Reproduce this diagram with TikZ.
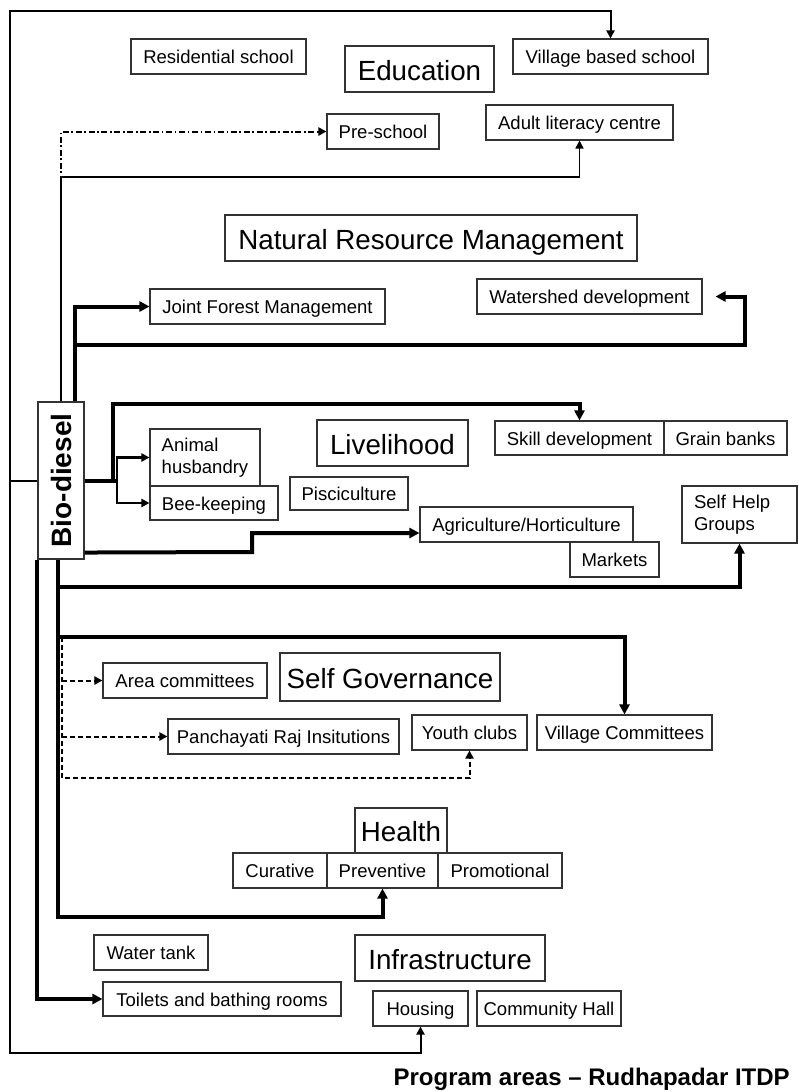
\documentclass[tikz,border=0pt]{standalone}
\usepackage{fontspec}
\setmainfont{Liberation Sans}
\usepackage{graphicx}
\usetikzlibrary{arrows.meta,calc}
\begin{document}
\begin{tikzpicture}[x=0.75pt,y=-0.75pt,
  sz/.style 2 args={minimum width={#1*0.75pt},minimum height={#2*0.75pt}},
  boxbase/.style={draw=black!80,line width=0.8pt,inner sep=0pt,align=center,
    font=\fontsize{13.9}{16.5}\selectfont},
  box/.style={boxbase,text height=11pt,text depth=0pt},
  hbox/.style={boxbase,font=\fontsize{20.8}{24}\selectfont,text height=16.5pt,text depth=0pt},
  tipa/.style={-{Triangle[length=6pt,width=6pt]}},
  tipb/.style={-{Triangle[length=7.5pt,width=7.5pt]}},
  lnthin/.style={line width=1.2pt},
  lnframe/.style={line width=1.5pt},
  lnmed/.style={line width=1.8pt},
  lnbold/.style={line width=3pt},
  lndash/.style={line width=1.5pt,dash pattern=on 3.75pt off 2.25pt},
  lndashdot/.style={line width=1.5pt,dash pattern=on 4.5pt off 2pt on 1.2pt off 2pt},
]
\fill[white] (0,0) rectangle (799,1092);
\useasboundingbox (0,0) rectangle (799,1092);

% ---- Education
\node[box,sz={175}{35}] (res) at (218.5,56.5) {Residential school};
\node[hbox,sz={149}{46}] (edu) at (419.5,69) {Education};
\node[box,sz={195}{35}] (vbs) at (610.5,56.5) {Village based school};
\node[box,sz={112}{35}] (pre) at (383,131.5) {Pre-school};
\node[box,sz={187}{35}] (alc) at (579.5,122.5) {Adult literacy centre};

% ---- Natural resource management
\node[hbox,sz={412}{46}] (nrm) at (431,238) {Natural Resource Management};
\node[box,sz={235}{35}] (jfm) at (267.5,306.5) {Joint Forest Management};
\node[box,sz={225}{35}] (wsd) at (589.5,296.5) {Watershed development};

% ---- Central source
\node[boxbase,sz={46}{157}] (bio) at (61,480.5)
  {\rotatebox{90}{\fontsize{21}{24}\bfseries Bio-diesel}};

% ---- Livelihood
\node[boxbase,sz={110}{57},align=left] (ah) at (205,457.5) {Animal\\husbandry};
\node[box,sz={128}{34}] (bee) at (214,503) {Bee-keeping};
\node[hbox,sz={151}{46}] (liv) at (392.5,443) {Livelihood};
\node[box,sz={118}{33}] (pis) at (349,493.5) {Pisciculture};
\node[box,sz={169}{34}] (skd) at (579.5,438) {Skill development};
\node[box,sz={123}{34}] (grb) at (725.5,438) {Grain banks};
\node[box,sz={213}{35}] (agr) at (526.5,524.5) {Agriculture/Horticulture};
\node[box,sz={89}{35}] (mkt) at (614.5,559.5) {Markets};
\node[boxbase,sz={115}{57},align=left,text width={91*0.75pt}] (shg) at (739.5,514.5) {Self Help\\Groups};

% ---- Self governance
\node[box,sz={164}{35}] (area) at (185,680.5) {Area committees};
\node[hbox,sz={220}{48}] (sg) at (390,677) {Self Governance};
\node[box,sz={231}{35}] (pri) at (283.5,736.5) {Panchayati Raj Insitutions};
\node[box,sz={115}{35}] (yc) at (469.5,732.5) {Youth clubs};
\node[box,sz={175}{35}] (vc) at (624.5,732.5) {Village Committees};

% ---- Health
\node[hbox,sz={92}{45}] (hl) at (401,830.5) {Health};
\node[box,sz={94}{35}] (cur) at (280,870.5) {Curative};
\node[box,sz={111}{35}] (prev) at (382.5,870.5) {Preventive};
\node[box,sz={124}{35}] (prom) at (500,870.5) {Promotional};

% ---- Infrastructure
\node[box,sz={114}{35}] (wt) at (151,952.5) {Water tank};
\node[box,sz={238}{34}] (toil) at (222,999) {Toilets and bathing rooms};
\node[hbox,sz={190}{46}] (inf) at (450,958) {Infrastructure};
\node[box,sz={95}{35}] (hou) at (420.5,1008.5) {Housing};
\node[box,sz={144}{35}] (ch) at (549,1008.5) {Community Hall};

\node[anchor=east,inner sep=0pt,font=\fontsize{18}{20}\selectfont\bfseries] (ttl) at (790,1079)
  {Program areas -- Rudhapadar ITDP};

% ---- outer frame
\coordinate (fl) at (10,480.5);
\draw[lnframe] (bio.west) -- (fl);
\draw[lnframe,tipa] (fl) -- (10,11) -| (vbs.north);
\draw[lnframe,tipa] (fl) -- (10,1053) -| (hou.south);

% ---- education links
\draw[lndashdot,tipa] (bio.north) |- (pre.west);
\draw[lnthin,tipa] (bio.north) -- (61,177) -| (alc.south);

% ---- resource management links
\coordinate (bn2) at ([xshift=10.5pt]bio.north);
\draw[lnbold,tipb] (bn2) |- (jfm.west);
\draw[lnbold,tipb] (75,345) -- (745,345) |- ([xshift=9.75pt]wsd.east);

% ---- livelihood links
\coordinate (lv) at (113,480.5);
\coordinate (br) at (117,480.5);
\draw[lnbold] (bio.east) -- (br);
\draw[lnbold,tipb] (lv) -- (113,404) -| (skd.north);
\draw[lnmed,tipa] (br) |- (ah.west);
\draw[lnmed,tipa] (br) |- (bee.west);
\draw[lnbold,tipb] ($(bio.south east)+(0,-7)$) -- (252,552) -- (252,533) -- ($(agr.west)+(0,8.5)$);

% ---- lower links
\coordinate (bs) at ([xshift=-2.25pt]bio.south);
\draw[lnbold,tipb] (bs) -- (58,917) -| (prev.south);
\draw[lnbold,tipb] (58,587) -| (shg.south);
\draw[lnbold,tipb] (58,637) -| (vc.north);
\draw[lnbold,tipb] (bio.south west) |- (toil.west);

% ---- governance links
\draw[lndash,tipa] (62,637) -- (62,778) -| (yc.south);
\draw[lndash,tipa] (62,680.5) -- (area.west);
\draw[lndash,tipa] (62,736.5) -- (pri.west);
\end{tikzpicture}
\end{document}
